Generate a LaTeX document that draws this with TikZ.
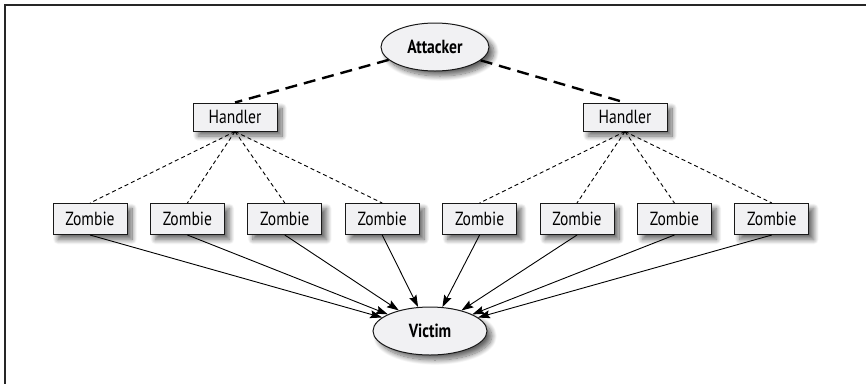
\documentclass[tikz,border=0pt]{standalone}
\usepackage{fontspec}
\setmainfont{PT Sans}[FakeStretch=0.82]
\usetikzlibrary{arrows.meta,shapes.geometric,shadows.blur}
\definecolor{boxfill}{HTML}{F1F1F3}
\tikzset{
  softshadow/.style={blur shadow={shadow xshift=5pt,shadow yshift=-5pt,shadow blur radius=5pt,shadow blur steps=12,shadow opacity=60}},
  hostbox/.style={draw=black!90,line width=1pt,fill=boxfill,rectangle,inner sep=0pt,softshadow,font=\fontsize{19}{19}\selectfont},
  handlerbox/.style={hostbox,minimum width=84pt,minimum height=28pt},
  zombiebox/.style={hostbox,minimum width=74pt,minimum height=31pt},
  endpoint/.style={draw=black!90,line width=1pt,fill=boxfill,ellipse,inner sep=0pt,softshadow,font=\fontsize{19}{19}\selectfont\bfseries},
  ctrl/.style={line width=2.4pt,dash pattern=on 12pt off 7pt},
  relay/.style={line width=0.9pt,dash pattern=on 4pt off 3pt},
  flood/.style={line width=0.9pt,-{Stealth[length=12pt,width=8pt,inset=2pt]}},
}
\begin{document}
\begin{tikzpicture}[x=1pt,y=-1pt]
  \useasboundingbox (0,0) rectangle (866,384);
  % frame: top and left rules only
  \draw[line width=1.6pt,black!85] (866,5) -- (5,5) -- (5,384);

  % nodes
  \node[endpoint,minimum width=108pt,minimum height=48pt] (att) at (435,47) {Attacker};
  \node[handlerbox] (h1) at (235,117) {Handler};
  \node[handlerbox] (h2) at (625,117) {Handler};
  \foreach \i/\x in {1/90,2/187.4,3/284.8,4/382.2,5/479.6,6/577,7/674.4,8/771.8}
    \node[zombiebox] (z\i) at (\x,219) {Zombie};
  \node[endpoint,minimum width=114pt,minimum height=48pt] (vic) at (430,331) {Victim};

  % control channel attacker -> handlers
  \draw[ctrl] (att) -- (h1.north);
  \draw[ctrl] (att) -- (h2.north);

  % handlers -> zombies
  \foreach \i in {1,...,4} \draw[relay] (h1.south) -- (z\i.north);
  \foreach \i in {5,...,8} \draw[relay] (h2.south) -- (z\i.north);

  % zombies flood the victim
  \foreach \i in {1,...,8} \draw[flood] (z\i.south) -- (vic);
\end{tikzpicture}
\end{document}
